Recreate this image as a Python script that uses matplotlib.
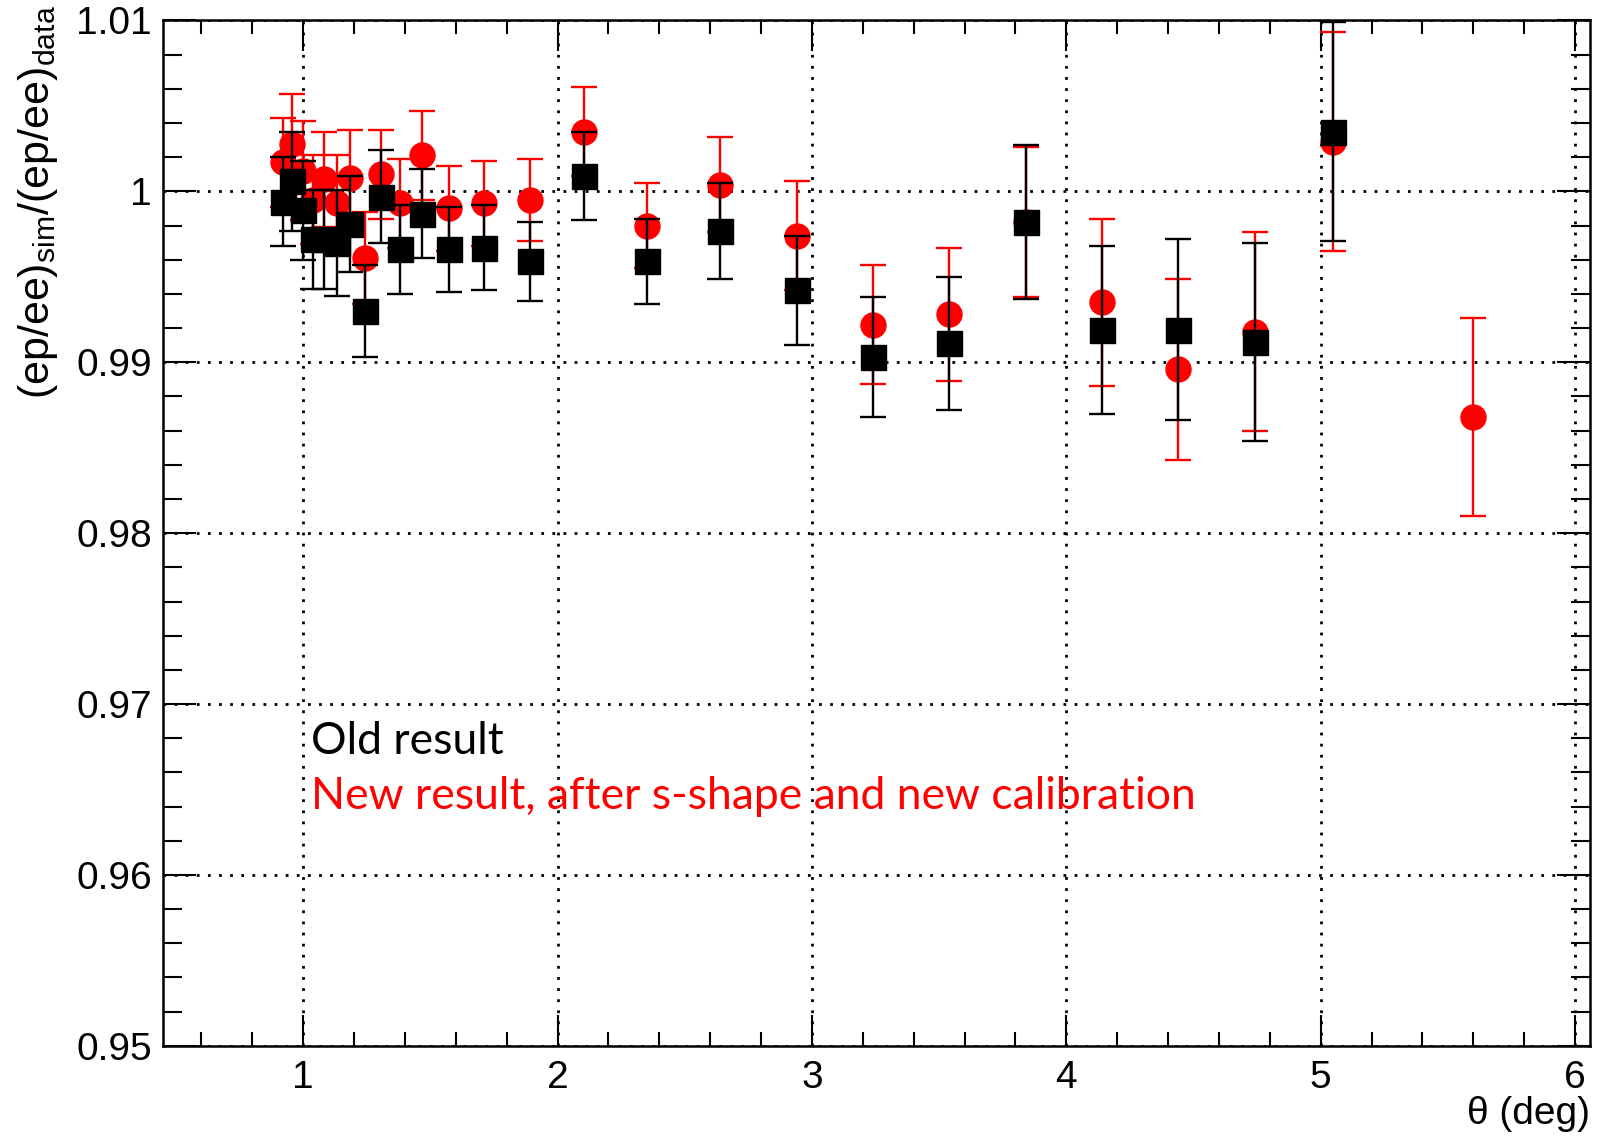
import matplotlib
matplotlib.use("Agg")
import matplotlib.pyplot as plt
from matplotlib.ticker import MultipleLocator, FixedLocator, FixedFormatter

plt.rcParams['font.family'] = ['Liberation Sans', 'DejaVu Sans']
plt.rcParams['mathtext.fontset'] = 'custom'
plt.rcParams['mathtext.rm'] = 'Liberation Sans'
plt.rcParams['mathtext.it'] = 'Liberation Sans:italic'

# theta bins (deg) and double ratio (ep/ee)_sim / (ep/ee)_data
theta_old = [0.922, 0.958, 0.998, 1.038, 1.083, 1.134, 1.183, 1.242, 1.305, 1.379,
             1.466, 1.573, 1.710, 1.893, 2.105, 2.35, 2.64, 2.94, 3.24, 3.54,
             3.84, 4.14, 4.44, 4.74, 5.05]
ratio_old = [0.9994, 1.0006, 0.9989, 0.9972, 0.9972, 0.9970, 0.9981, 0.9930, 0.9997, 0.9966,
             0.9987, 0.9966, 0.9967, 0.9959, 1.0009, 0.9959, 0.9977, 0.9942, 0.9903, 0.9911,
             0.9982, 0.9919, 0.9919, 0.9912, 1.0035]
err_old = [0.0026, 0.0029, 0.0029, 0.0029, 0.0029, 0.0031, 0.0028, 0.0027, 0.0027, 0.0026,
           0.0026, 0.0025, 0.0025, 0.0023, 0.0026, 0.0025, 0.0028, 0.0032, 0.0035, 0.0039,
           0.0045, 0.0049, 0.0053, 0.0058, 0.0064]

theta_new = [0.922, 0.958, 0.998, 1.038, 1.083, 1.134, 1.183, 1.242, 1.305, 1.379,
             1.466, 1.573, 1.710, 1.893, 2.105, 2.35, 2.64, 2.94, 3.24, 3.54,
             3.84, 4.14, 4.44, 4.74, 5.05, 5.6]
ratio_new = [1.0017, 1.0028, 1.0012, 0.9995, 1.0007, 0.9993, 1.0008, 0.9961, 1.0010, 0.9993,
             1.0021, 0.9990, 0.9993, 0.9995, 1.0035, 0.9980, 1.0004, 0.9974, 0.9922, 0.9928,
             0.9982, 0.9935, 0.9896, 0.9918, 1.0029, 0.9868]
err_new = [0.0026, 0.0029, 0.0029, 0.0026, 0.0028, 0.0028, 0.0028, 0.0027, 0.0026, 0.0026,
           0.0026, 0.0025, 0.0025, 0.0024, 0.0026, 0.0025, 0.0028, 0.0032, 0.0035, 0.0039,
           0.0044, 0.0049, 0.0053, 0.0058, 0.0064, 0.0058]

y_ticks = [0.95, 0.96, 0.97, 0.98, 0.99, 1.00, 1.01]
y_ticklabels = ['0.95', '0.96', '0.97', '0.98', '0.99', '1', '1.01']

fig = plt.figure(figsize=(16, 11.38), dpi=100)
ax = fig.add_axes([0.102, 0.081, 0.892, 0.901])

# new result first so the old squares sit on top
ax.errorbar(theta_new, ratio_new, yerr=err_new, fmt='o', color='red', ms=18,
            elinewidth=1.7, capsize=9.5, capthick=1.7, zorder=3)
ax.errorbar(theta_old, ratio_old, yerr=err_old, fmt='s', color='black', ms=18,
            elinewidth=1.7, capsize=9.5, capthick=1.7, zorder=4)

ax.set_xlim(0.45, 6.06)
ax.set_ylim(0.95, 1.01)

ax.xaxis.set_major_locator(FixedLocator([1, 2, 3, 4, 5, 6]))
ax.xaxis.set_minor_locator(MultipleLocator(0.2))
ax.yaxis.set_major_locator(FixedLocator(y_ticks))
ax.yaxis.set_major_formatter(FixedFormatter(y_ticklabels))
ax.yaxis.set_minor_locator(MultipleLocator(0.002))

ax.tick_params(axis='both', which='both', direction='in', top=True, right=True,
               width=1.5, labelsize=28)
ax.tick_params(axis='x', which='major', length=22, pad=10)
ax.tick_params(axis='x', which='minor', length=10)
ax.tick_params(axis='y', which='major', length=24, pad=8)
ax.tick_params(axis='y', which='minor', length=14)
for sp in ax.spines.values():
    sp.set_linewidth(1.8)

ax.grid(True, which='major', color='black', linestyle=(0, (1, 3)), linewidth=2.0, zorder=0)
ax.set_axisbelow(True)

ax.set_xlabel('θ (deg)', fontsize=28, loc='right', labelpad=0)
ax.set_ylabel(r'(ep/ee)$_{\mathrm{sim}}$/(ep/ee)$_{\mathrm{data}}$', fontsize=31, loc='top')
ax.yaxis.set_label_coords(-0.072, 1.015)

ax.text(1.03, 0.9678, 'Old result', color='black', fontsize=32, family='Lato', va='center')
ax.text(1.03, 0.9646, 'New result, after s-shape and new calibration', color='red',
        fontsize=32, family='Lato', va='center')

fig.savefig('out.png', dpi=100)
